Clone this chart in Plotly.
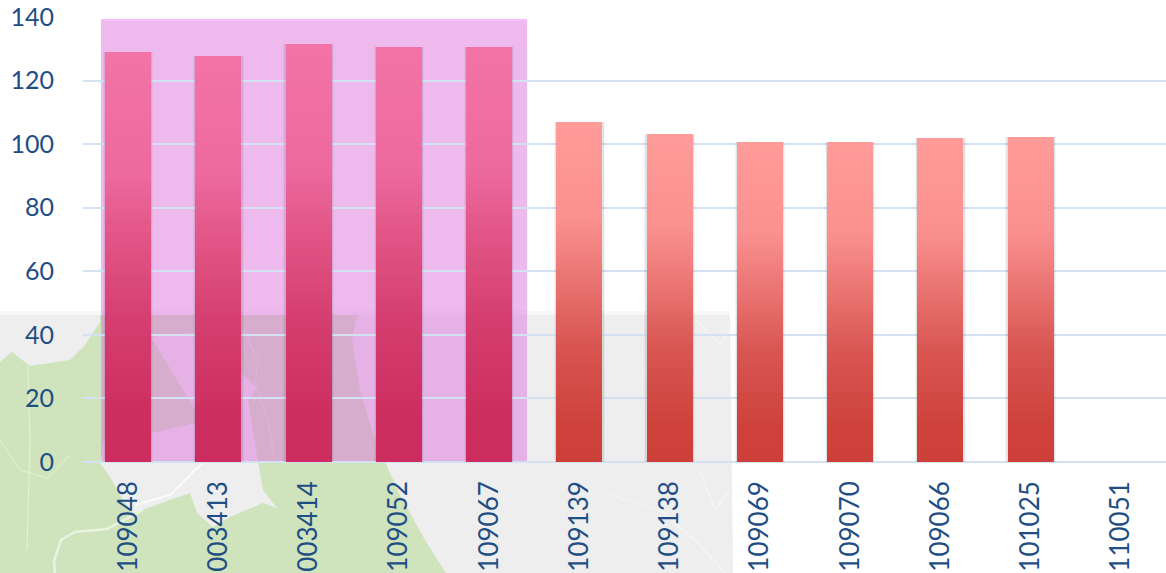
import plotly.graph_objects as go

categories = ["109048", "003413", "003414", "109052", "109067", "109139",
              "109138", "109069", "109070", "109066", "101025", "110051"]
values = [129, 127.7, 131.5, 130.5, 130.5, 107, 103.2, 100.7, 100.7, 102, 102.3, None]
highlight_count = 5
y_ticks = [0, 20, 40, 60, 80, 100, 120, 140]

W, H = 1166, 573
L, R, T, B = 83, 0, 17, 111
BAR_W = 0.51
N_BANDS = 130

# gradient stops: fraction of bar height (0 bottom, 1 top), colour
RED = [(0, (206, 63, 57)), (.12, (207, 66, 60)), (.35, (216, 86, 82)), (.55, (235, 118, 116)),
       (.72, (250, 145, 143)), (1, (255, 155, 152))]
PINK = [(0, (204, 44, 94)), (.12, (205, 46, 96)), (.35, (213, 62, 112)), (.55, (226, 85, 134)),
        (.72, (238, 106, 158)), (1, (243, 115, 166))]


def grad(stops, f):
    for (a, ca), (b, cb) in zip(stops, stops[1:]):
        if f <= b:
            t = (f - a) / (b - a)
            return "rgb(%d,%d,%d)" % tuple(round(p + (q - p) * t) for p, q in zip(ca, cb))
    return "rgb(%d,%d,%d)" % stops[-1][1]


def px(x):
    return (x - L) / (W - L - R)


def py(y):
    return (H - B - y) / (H - B - T)


def poly(points, fill, opacity=1):
    d = "M" + " L".join(f"{px(x):.4f},{py(y):.4f}" for x, y in points) + " Z"
    return dict(type="path", xref="paper", yref="paper", path=d, fillcolor=fill,
                line=dict(width=0), opacity=opacity, layer="below")


def road(points, width=1.5, color="rgba(255,255,255,0.4)"):
    d = "M" + " L".join(f"{px(x):.4f},{py(y):.4f}" for x, y in points)
    return dict(type="path", xref="paper", yref="paper", path=d, line=dict(color=color, width=width), layer="below")


GRAY, GREEN = "#eeeeee", "#cfe4bc"
shapes = [
    poly([(0, 311), (730, 311), (730, 316), (0, 316)], "#f7f7f7"),
    poly([(0, 315), (730, 315), (733, 573), (0, 573)], GRAY),
    poly([(0, 362), (12, 352), (30, 366), (70, 360), (85, 345), (100, 322), (100, 315), (357, 315),
          (352, 340), (360, 390), (375, 440), (385, 462), (400, 495), (425, 540), (446, 573), (0, 573)], GREEN),
    poly([(100, 463), (110, 477), (123, 500), (133, 513), (190, 493), (197, 513), (213, 527), (230, 517),
          (263, 503), (277, 508), (263, 490), (258, 462), (248, 400), (257, 388), (241, 372), (225, 390),
          (195, 423), (151, 433), (128, 440), (104, 440)], GRAY),
    poly([(151, 337), (195, 410), (215, 410), (215, 330), (195, 333), (165, 335)], GRAY),
    road([(55, 573), (54, 561), (61, 540), (75, 532), (107, 529), (143, 510)], 2.5, "rgba(255,255,255,0.55)"),
    road([(28, 365), (30, 440), (27, 550)], 1.2),
    road([(0, 440), (20, 470), (48, 478), (70, 455)], 1),
    road([(135, 505), (170, 495), (195, 470), (205, 462)], 2, "rgba(255,255,255,0.7)"),
    road([(243, 330), (258, 360), (255, 385), (268, 420), (275, 462)], 1.2),
    road([(610, 495), (660, 510), (700, 545), (725, 573)], 2, "rgba(255,255,255,0.3)"),
    road([(700, 470), (715, 510), (730, 490)], 2, "rgba(255,255,255,0.35)"),
    road([(695, 320), (720, 345), (730, 330)], 2, "rgba(255,255,255,0.35)"),
    dict(type="rect", xref="x", yref="y", x0=-0.30, x1=highlight_count - 0.58, y0=0, y1=139.4,
         fillcolor="rgba(222,118,222,0.5)", line=dict(width=0), layer="below"),
    dict(type="rect", xref="x", yref="y", x0=-0.30, x1=highlight_count - 0.58, y0=138.7, y1=139.4,
         fillcolor="rgba(255,190,255,0.6)", line=dict(width=0), layer="below"),
]

fig = go.Figure()

# soft shadow around each bar and dark edge under it
for extra, alpha in ((0.05, 0.05), (0.028, 0.09)):
    fig.add_bar(x=categories, y=values, width=BAR_W + extra,
                marker=dict(color=f"rgba(60,60,80,{alpha})", line=dict(width=0)),
                hoverinfo="skip", cliponaxis=False)
fig.add_bar(x=categories, y=[None if v is None else 1 for v in values], base=-0.8, width=BAR_W,
            marker=dict(color="rgba(70,70,70,0.6)", line=dict(width=0)), hoverinfo="skip", cliponaxis=False)

for i in range(N_BANDS, 0, -1):
    f = i / N_BANDS
    fig.add_bar(
        x=categories,
        y=[None if v is None else v * f for v in values],
        width=BAR_W,
        marker=dict(color=[grad(PINK if k < highlight_count else RED, f) for k in range(len(categories))],
                    line=dict(width=0)),
        hoverinfo="skip",
        cliponaxis=False,
    )

FONT_Y = dict(family="Lato", size=25, color="#1f4e85")
FONT_X = dict(family="Lato", size=26, color="#1f4e85")
GRID = "#d3e1f3"
fig.update_layout(
    width=W, height=H, autosize=False,
    margin=dict(l=L, r=R, t=T, b=B, pad=0),
    barmode="overlay", showlegend=False, bargap=0,
    paper_bgcolor="white", plot_bgcolor="rgba(0,0,0,0)",
    shapes=shapes,
    xaxis=dict(type="category", categoryorder="array", categoryarray=categories, tickangle=-90,
               tickfont=FONT_X, showgrid=False, showline=False, ticks="", ticklabelstandoff=13,
               range=[-0.5, 11.5]),
    yaxis=dict(range=[0, 140], tickvals=y_ticks, tickfont=FONT_Y, gridcolor=GRID, gridwidth=2,
               zeroline=True, zerolinecolor=GRID, zerolinewidth=2, showline=False, ticks="",
               ticklabelstandoff=28),
)
fig.write_html("out.html", config=dict(displayModeBar=False),
               post_script="document.body.style.margin='0';document.documentElement.style.overflow='hidden';")
